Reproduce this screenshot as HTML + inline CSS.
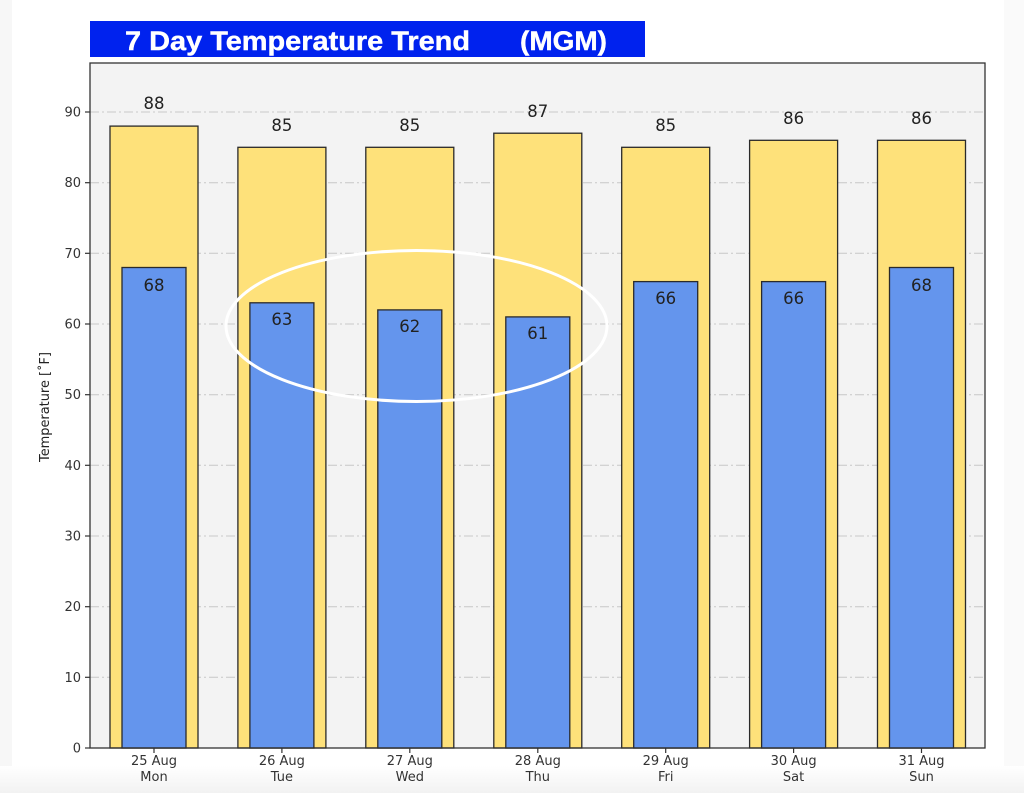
<!DOCTYPE html>
<html><head><meta charset="utf-8"><style>
html,body{margin:0;padding:0;background:#fff;}
svg{display:block;}
</style></head><body>
<svg width="1024" height="793" viewBox="0 0 1024 793" xmlns="http://www.w3.org/2000/svg">
<defs>
<linearGradient id="bg" x1="0" y1="0" x2="0" y2="1">
<stop offset="0" stop-color="#ffffff"/><stop offset="1" stop-color="#f2f2f2"/>
</linearGradient>
</defs>
<rect x="0" y="0" width="1024" height="793" fill="#fff"/>
<rect x="0" y="0" width="12" height="793" fill="#f7f7f7"/>
<rect x="1004" y="0" width="20" height="793" fill="#fafafa"/>
<rect x="0" y="766" width="1024" height="27" fill="url(#bg)"/>

<!-- title -->
<rect x="90" y="21" width="555" height="36" fill="#0022ee"/>
<text x="125" y="50" font-family="Liberation Sans, Arial, sans-serif" font-weight="bold" font-size="27" fill="#fff" stroke="#fff" stroke-width="0.4" textLength="345" lengthAdjust="spacingAndGlyphs">7 Day Temperature Trend</text>
<text x="520" y="50" font-family="Liberation Sans, Arial, sans-serif" font-weight="bold" font-size="27" fill="#fff" stroke="#fff" stroke-width="0.4" textLength="87" lengthAdjust="spacingAndGlyphs">(MGM)</text>

<!-- axes background -->
<rect x="90" y="63" width="895" height="685" fill="#f3f3f3"/>

<!-- grid -->
<g stroke="#c8c8c8" stroke-width="1" stroke-dasharray="9,3,2,3" fill="none">
<line x1="90" y1="677.3" x2="985" y2="677.3"/>
<line x1="90" y1="606.7" x2="985" y2="606.7"/>
<line x1="90" y1="536" x2="985" y2="536"/>
<line x1="90" y1="465.3" x2="985" y2="465.3"/>
<line x1="90" y1="394.7" x2="985" y2="394.7"/>
<line x1="90" y1="324" x2="985" y2="324"/>
<line x1="90" y1="253.3" x2="985" y2="253.3"/>
<line x1="90" y1="182.7" x2="985" y2="182.7"/>
<line x1="90" y1="112" x2="985" y2="112"/>
</g>

<!-- high bars -->
<g fill="#fee17a" stroke="#2a2a2a" stroke-width="1.3">
<rect x="110" y="126.1" width="88" height="621.9"/>
<rect x="237.9" y="147.3" width="88" height="600.7"/>
<rect x="365.8" y="147.3" width="88" height="600.7"/>
<rect x="493.8" y="133.2" width="88" height="614.8"/>
<rect x="621.7" y="147.3" width="88" height="600.7"/>
<rect x="749.6" y="140.3" width="88" height="607.7"/>
<rect x="877.5" y="140.3" width="88" height="607.7"/>
</g>
<!-- low bars -->
<g fill="#6495ed" stroke="#2a2a2a" stroke-width="1.3">
<rect x="122" y="267.5" width="64" height="480.5"/>
<rect x="249.9" y="302.8" width="64" height="445.2"/>
<rect x="377.8" y="309.9" width="64" height="438.1"/>
<rect x="505.8" y="316.9" width="64" height="431.1"/>
<rect x="633.7" y="281.6" width="64" height="466.4"/>
<rect x="761.6" y="281.6" width="64" height="466.4"/>
<rect x="889.5" y="267.5" width="64" height="480.5"/>
</g>

<!-- value labels -->
<g font-family="DejaVu Sans, sans-serif" font-size="16.5" fill="#222" text-anchor="middle">
<text x="154" y="109">88</text>
<text x="281.9" y="131">85</text>
<text x="409.8" y="131">85</text>
<text x="537.8" y="117">87</text>
<text x="665.7" y="131">85</text>
<text x="793.6" y="124">86</text>
<text x="921.5" y="124">86</text>
<text x="154" y="291">68</text>
<text x="281.9" y="325">63</text>
<text x="409.8" y="332">62</text>
<text x="537.8" y="339">61</text>
<text x="665.7" y="304">66</text>
<text x="793.6" y="304">66</text>
<text x="921.5" y="291">68</text>
</g>

<!-- ellipse -->
<ellipse cx="416.5" cy="326" rx="190.5" ry="75.5" fill="none" stroke="#fff" stroke-width="3"/>

<!-- spines -->
<rect x="90" y="63" width="895" height="685" fill="none" stroke="#333" stroke-width="1.3"/>

<!-- ticks -->
<g stroke="#333" stroke-width="1.2">
<line x1="85" y1="748" x2="90" y2="748"/>
<line x1="85" y1="677.3" x2="90" y2="677.3"/>
<line x1="85" y1="606.7" x2="90" y2="606.7"/>
<line x1="85" y1="536" x2="90" y2="536"/>
<line x1="85" y1="465.3" x2="90" y2="465.3"/>
<line x1="85" y1="394.7" x2="90" y2="394.7"/>
<line x1="85" y1="324" x2="90" y2="324"/>
<line x1="85" y1="253.3" x2="90" y2="253.3"/>
<line x1="85" y1="182.7" x2="90" y2="182.7"/>
<line x1="85" y1="112" x2="90" y2="112"/>
<line x1="154" y1="748" x2="154" y2="753"/>
<line x1="281.9" y1="748" x2="281.9" y2="753"/>
<line x1="409.8" y1="748" x2="409.8" y2="753"/>
<line x1="537.8" y1="748" x2="537.8" y2="753"/>
<line x1="665.7" y1="748" x2="665.7" y2="753"/>
<line x1="793.6" y1="748" x2="793.6" y2="753"/>
<line x1="921.5" y1="748" x2="921.5" y2="753"/>
</g>
<g font-family="DejaVu Sans, sans-serif" font-size="13" fill="#333" text-anchor="end">
<text x="81" y="752.5">0</text>
<text x="81" y="681.8">10</text>
<text x="81" y="611.2">20</text>
<text x="81" y="540.5">30</text>
<text x="81" y="469.8">40</text>
<text x="81" y="399.2">50</text>
<text x="81" y="328.5">60</text>
<text x="81" y="257.8">70</text>
<text x="81" y="187.2">80</text>
<text x="81" y="116.5">90</text>
</g>
<g font-family="DejaVu Sans, sans-serif" font-size="13" fill="#333" text-anchor="middle">
<text x="154" y="765">25 Aug</text><text x="154" y="781">Mon</text>
<text x="281.9" y="765">26 Aug</text><text x="281.9" y="781">Tue</text>
<text x="409.8" y="765">27 Aug</text><text x="409.8" y="781">Wed</text>
<text x="537.8" y="765">28 Aug</text><text x="537.8" y="781">Thu</text>
<text x="665.7" y="765">29 Aug</text><text x="665.7" y="781">Fri</text>
<text x="793.6" y="765">30 Aug</text><text x="793.6" y="781">Sat</text>
<text x="921.5" y="765">31 Aug</text><text x="921.5" y="781">Sun</text>
</g>
<text x="0" y="0" transform="translate(49,407) rotate(-90)" font-family="DejaVu Sans, sans-serif" font-size="13" fill="#222" text-anchor="middle" textLength="110" lengthAdjust="spacingAndGlyphs">Temperature [˚F]</text>
</svg>
</body></html>
